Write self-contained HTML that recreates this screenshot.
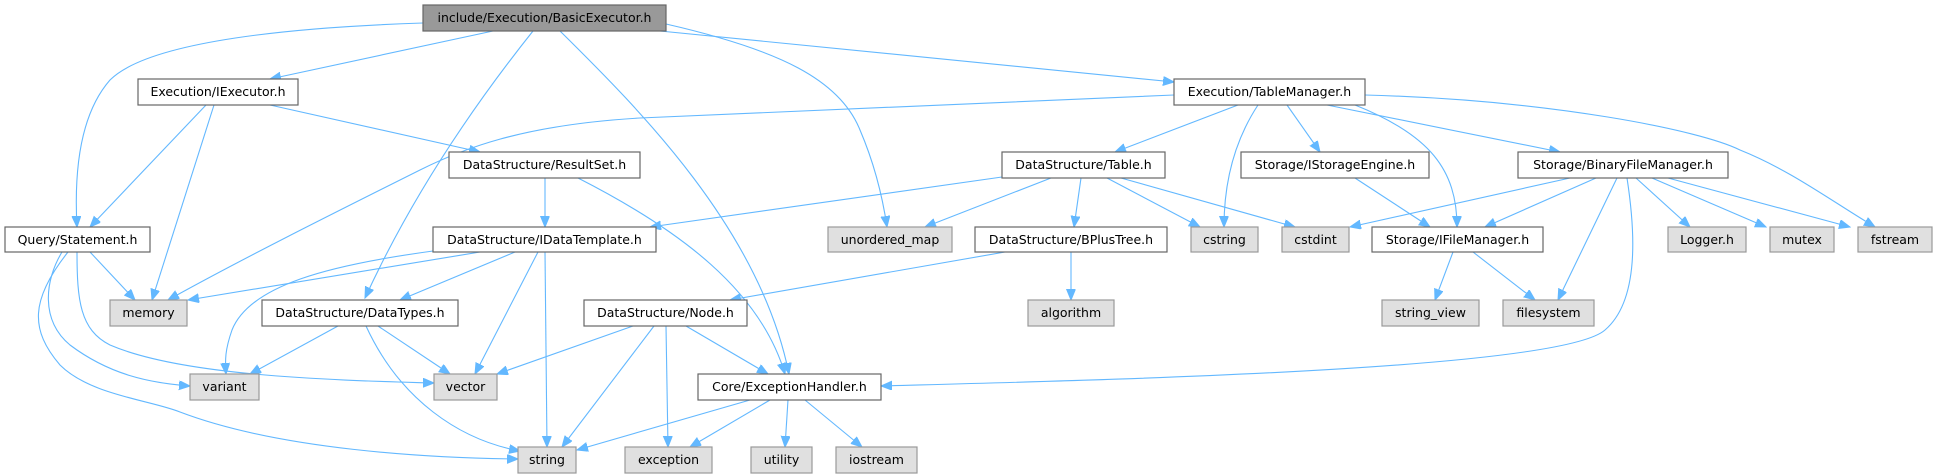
<!DOCTYPE html>
<html><head><meta charset="utf-8"><style>
html,body{margin:0;padding:0;background:#fff;}
svg{display:block;}
text{font-family:"DejaVu Sans","Liberation Sans",sans-serif;font-size:12.5px;fill:#000;text-anchor:middle;}
.n{fill:#fff;stroke:#666;stroke-width:1.2;}
.g{fill:#e0e0e0;stroke:#999;stroke-width:1.2;}
.r{fill:#999;stroke:#666;stroke-width:1.2;}
path{fill:none;stroke:#63b8ff;stroke-width:1.1;}
</style></head><body>
<svg width="1937" height="476" viewBox="0 0 1937 476" xmlns="http://www.w3.org/2000/svg">
<defs><marker id="a" markerUnits="userSpaceOnUse" markerWidth="12" markerHeight="10" refX="11" refY="4.5" orient="auto"><path d="M0,0 L11,4.5 L0,9 Z" style="fill:#63b8ff;stroke:#63b8ff;stroke-width:1"/></marker></defs>
<g marker-end="url(#a)">
<path d="M423,23 C300,27 150,40 110,80 C75,120 75,190 77,227"/>
<path d="M493,31 L270,79"/>
<path d="M533,31 C470,110 410,200 365,298"/>
<path d="M560,31 C640,110 760,230 789,374"/>
<path d="M666,24 C780,50 840,80 860,130 C875,165 883,200 887,227"/>
<path d="M660,31 L1174,82"/>
<path d="M206,105 L90,227"/>
<path d="M214,105 L152,300"/>
<path d="M270,105 L480,152"/>
<path d="M1174,95 L640,118 C520,125 460,150 420,170 C330,215 240,260 168,300"/>
<path d="M1238,105 L1115,152"/>
<path d="M1258,105 C1235,140 1224,180 1224,227"/>
<path d="M1287,105 L1320,152"/>
<path d="M1355,105 C1430,135 1457,170 1457,227"/>
<path d="M1327,105 L1560,152"/>
<path d="M1365,95 C1550,100 1700,130 1740,150 C1790,170 1830,200 1875,227"/>
<path d="M545,178 L545,227"/>
<path d="M578,178 C680,230 760,290 785,374"/>
<path d="M1002,177 L650,227"/>
<path d="M1051,178 L925,227"/>
<path d="M1081,178 L1074,227"/>
<path d="M1107,178 L1200,227"/>
<path d="M1121,178 L1295,227"/>
<path d="M1355,178 L1430,227"/>
<path d="M1570,178 L1350,227"/>
<path d="M1596,178 L1485,227"/>
<path d="M1617,178 L1558,300"/>
<path d="M1627,178 C1635,230 1640,300 1605,330 C1560,370 1100,380 881,386"/>
<path d="M1636,178 L1690,227"/>
<path d="M1652,178 L1766,227"/>
<path d="M1668,178 L1850,227"/>
<path d="M1453,252 L1435,300"/>
<path d="M1473,252 L1535,300"/>
<path d="M1005,252 L730,300"/>
<path d="M1071,252 L1071,300"/>
<path d="M480,252 L188,300"/>
<path d="M433,251 C330,265 250,285 232,330 C225,350 225,360 226,374"/>
<path d="M515,252 L400,300"/>
<path d="M538,252 L475,374"/>
<path d="M545,252 L547,447"/>
<path d="M90,252 L135,300"/>
<path d="M77,252 C77,300 80,330 110,345 C180,375 320,380 434,383"/>
<path d="M62,252 C45,280 40,320 70,345 C110,375 150,383 190,386"/>
<path d="M68,252 C30,300 30,330 60,365 C90,395 150,400 180,412 C280,450 430,458 518,459"/>
<path d="M338,326 L250,374"/>
<path d="M378,326 L450,374"/>
<path d="M366,326 C400,400 460,440 520,451"/>
<path d="M633,326 L497,374"/>
<path d="M654,326 L562,447"/>
<path d="M666,326 L668,447"/>
<path d="M686,326 L768,374"/>
<path d="M750,400 L577,450"/>
<path d="M770,400 L690,447"/>
<path d="M788,400 L785,447"/>
<path d="M805,400 L862,447"/>
</g>
<rect class="r" x="423" y="5" width="243" height="26"/><text x="544.5" y="22">include/Execution/BasicExecutor.h</text>
<rect class="n" x="138" y="79" width="160" height="26"/><text x="218" y="96">Execution/IExecutor.h</text>
<rect class="n" x="1174" y="79" width="191" height="26"/><text x="1269.5" y="96">Execution/TableManager.h</text>
<rect class="n" x="449" y="152" width="191" height="26"/><text x="544.5" y="169">DataStructure/ResultSet.h</text>
<rect class="n" x="1002" y="152" width="163" height="26"/><text x="1083.5" y="169">DataStructure/Table.h</text>
<rect class="n" x="1241" y="152" width="188" height="26"/><text x="1335" y="169">Storage/IStorageEngine.h</text>
<rect class="n" x="1518" y="152" width="210" height="26"/><text x="1623" y="169">Storage/BinaryFileManager.h</text>
<rect class="n" x="5" y="227" width="145" height="25"/><text x="77.5" y="244">Query/Statement.h</text>
<rect class="n" x="433" y="227" width="223" height="25"/><text x="544.5" y="244">DataStructure/IDataTemplate.h</text>
<rect class="g" x="828" y="227" width="124" height="25"/><text x="890" y="244">unordered_map</text>
<rect class="n" x="975" y="227" width="192" height="25"/><text x="1071" y="244">DataStructure/BPlusTree.h</text>
<rect class="g" x="1191" y="227" width="67" height="25"/><text x="1224.5" y="244">cstring</text>
<rect class="g" x="1282" y="227" width="67" height="25"/><text x="1315.5" y="244">cstdint</text>
<rect class="n" x="1372" y="227" width="171" height="25"/><text x="1457.5" y="244">Storage/IFileManager.h</text>
<rect class="g" x="1668" y="227" width="78" height="25"/><text x="1707" y="244">Logger.h</text>
<rect class="g" x="1770" y="227" width="64" height="25"/><text x="1802" y="244">mutex</text>
<rect class="g" x="1858" y="227" width="74" height="25"/><text x="1895" y="244">fstream</text>
<rect class="g" x="110" y="300" width="77" height="26"/><text x="148.5" y="317">memory</text>
<rect class="n" x="262" y="300" width="196" height="26"/><text x="360" y="317">DataStructure/DataTypes.h</text>
<rect class="n" x="584" y="300" width="163" height="26"/><text x="665.5" y="317">DataStructure/Node.h</text>
<rect class="g" x="1028" y="300" width="86" height="26"/><text x="1071" y="317">algorithm</text>
<rect class="g" x="1382" y="300" width="97" height="26"/><text x="1430.5" y="317">string_view</text>
<rect class="g" x="1503" y="300" width="91" height="26"/><text x="1548.5" y="317">filesystem</text>
<rect class="g" x="190" y="374" width="69" height="26"/><text x="224.5" y="391">variant</text>
<rect class="g" x="434" y="374" width="63" height="26"/><text x="465.5" y="391">vector</text>
<rect class="n" x="698" y="374" width="183" height="26"/><text x="789.5" y="391">Core/ExceptionHandler.h</text>
<rect class="g" x="518" y="447" width="58" height="26"/><text x="547" y="464">string</text>
<rect class="g" x="625" y="447" width="87" height="26"/><text x="668.5" y="464">exception</text>
<rect class="g" x="751" y="447" width="61" height="26"/><text x="781.5" y="464">utility</text>
<rect class="g" x="836" y="447" width="81" height="26"/><text x="876.5" y="464">iostream</text>
</svg>
</body></html>
